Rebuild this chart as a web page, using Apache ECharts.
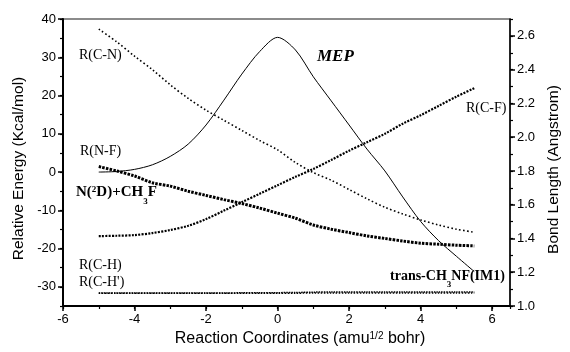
<!DOCTYPE html>
<html><head><meta charset="utf-8">
<script src="https://cdn.jsdelivr.net/npm/echarts@6/dist/echarts.min.js"></script>
<style>html,body{margin:0;padding:0;background:#fff}#c{width:570px;height:352px}</style>
</head><body><div id="c"></div>
<script>
// Reaction coordinate (amu^1/2 bohr)
const xs = [-5,-4.5,-4,-3.5,-3,-2.5,-2,-1.5,-1,-0.5,0,0.5,1,1.5,2,2.5,3,3.5,4,4.5,5,5.5];
// Relative energy (kcal/mol), left axis
const mep = [0,0.15,0.7,1.9,4.1,7.3,12.3,18.8,25.6,31.5,35.2,31.9,24.9,18.6,12.3,6.0,0.3,-6.5,-12.9,-17.9,-22.0,-26.0];
// Bond lengths (Angstrom), right axis
const rCN = [2.64,2.565,2.48,2.40,2.31,2.23,2.16,2.10,2.04,1.98,1.925,1.85,1.79,1.745,1.69,1.635,1.585,1.545,1.51,1.48,1.455,1.437];
const rNF = [1.826,1.80,1.77,1.73,1.71,1.68,1.655,1.63,1.607,1.58,1.55,1.52,1.48,1.455,1.435,1.415,1.40,1.385,1.372,1.366,1.36,1.356];
const rCF = [1.414,1.416,1.42,1.432,1.45,1.475,1.515,1.565,1.615,1.665,1.715,1.765,1.812,1.865,1.92,1.97,2.02,2.08,2.13,2.185,2.24,2.29];
const rCH = [1.077,1.077,1.077,1.077,1.077,1.077,1.077,1.077,1.078,1.078,1.079,1.080,1.082,1.083,1.083,1.083,1.083,1.083,1.083,1.083,1.083,1.083];
const rCH2 = [1.076,1.076,1.076,1.076,1.076,1.076,1.076,1.076,1.076,1.076,1.076,1.076,1.077,1.077,1.077,1.077,1.077,1.077,1.077,1.077,1.077,1.077];

const pairs = ys => xs.map((x,i)=>[x, ys[i]]);
const serif = '"Liberation Serif","Times New Roman",serif';
const sans = '"Liberation Sans",Arial,sans-serif';

const chart = echarts.init(document.getElementById('c'));
const axisLbl = {color:'#000', fontFamily:sans, fontSize:13};
const line = (name, data, yi, width, type, smooth) => ({
  name, type:'line', data: pairs(data), xAxisIndex:0, yAxisIndex:yi,
  symbol:'none', smooth: smooth, lineStyle:{color:'#000', width, type}, silent:true
});

chart.setOption({
  animation:false,
  backgroundColor:'#fff',
  grid:{left:63, right:52, top:19, bottom:45, show:true, borderColor:'#666', borderWidth:1.5, backgroundColor:'transparent'},
  xAxis:[
    {type:'value', position:'bottom', min:-6, max:6.5, interval:2,
     axisLine:{show:true, onZero:false, lineStyle:{color:'#000', width:2}},
     axisTick:{show:true, inside:false, length:5, lineStyle:{color:'#000', width:1.5}},
     axisLabel:Object.assign({margin:7, showMaxLabel:false}, axisLbl),
     splitLine:{show:false},
     name:'{n|Reaction Coordinates (amu}{s|1/2}{n| bohr)}', nameLocation:'middle', nameGap:25,
     nameTextStyle:{padding:[0,0,0,27], rich:{n:{fontFamily:sans, fontSize:16, color:'#000'}, s:{fontFamily:sans, fontSize:10, color:'#000', verticalAlign:'top'}}}
    },
    {type:'value', position:'bottom', min:-6, max:6.5, interval:1,
     axisLine:{show:false, onZero:false}, axisTick:{show:true, length:3, lineStyle:{color:'#000', width:1.2}},
     axisLabel:{show:false}, splitLine:{show:false}}
  ],
  yAxis:[
    {type:'value', position:'left', min:-35, max:40, splitNumber:8,
     axisLine:{show:true, onZero:false, lineStyle:{color:'#000', width:2}},
     axisTick:{show:true, length:5, lineStyle:{color:'#000', width:1.5}},
     axisLabel:Object.assign({margin:7, showMinLabel:false}, axisLbl),
     splitLine:{show:false},
     name:'Relative Energy (Kcal/mol)', nameLocation:'middle', nameGap:36,
     nameTextStyle:{fontFamily:sans, fontSize:15.5, color:'#000', padding:[0,12,0,0]}
    },
    {type:'value', position:'left', min:-35, max:40, interval:5,
     axisLine:{show:false, onZero:false}, axisTick:{show:true, length:3, lineStyle:{color:'#000', width:1.2}},
     axisLabel:{show:false}, splitLine:{show:false}},
    {type:'value', position:'right', min:1.0, max:2.7, interval:0.2,
     axisLine:{show:true, onZero:false, lineStyle:{color:'#000', width:1.5}},
     axisTick:{show:true, length:5, lineStyle:{color:'#000', width:1.5}},
     axisLabel:Object.assign({margin:7, showMaxLabel:false, formatter:v=>v.toFixed(1)}, axisLbl),
     splitLine:{show:false},
     name:'Bond Length (Angstrom)', nameLocation:'middle', nameGap:29,
     nameTextStyle:{fontFamily:sans, fontSize:15.5, color:'#000', padding:[0,14,0,0]}
    },
    {type:'value', position:'right', min:1.0, max:2.7, interval:0.1,
     axisLine:{show:false, onZero:false}, axisTick:{show:true, length:3, lineStyle:{color:'#000', width:1.2}},
     axisLabel:{show:false}, splitLine:{show:false}}
  ],
  series:[
    line('MEP', mep, 0, 1, 'solid', 0.3),
    line('R(C-N)', rCN, 2, 1.6, [1.6,2.4], 0.3),
    line('R(N-F)', rNF, 2, 3, [2.5,1.2], 0.3),
    line('R(C-F)', rCF, 2, 2.2, [2,1.3], 0.3),
    line('R(C-H)', rCH, 2, 1.5, [1.5,1], 0.3),
    line("R(C-H')", rCH2, 2, 1.5, [1.5,1.5], 0.3)
  ],
  graphic:[
    {type:'text', left:79, top:48, style:{text:'R(C-N)', font:'14px '+serif, fill:'#000'}},
    {type:'text', left:80, top:144, style:{text:'R(N-F)', font:'14px '+serif, fill:'#000'}},
    {type:'text', left:76, top:185, style:{text:'{b|N(}{p|2}{b|D)+CH}{q|3}{b|F}', fill:'#000',
      rich:{b:{fontFamily:serif, fontWeight:'bold', fontSize:15, fill:'#000'}, p:{fontFamily:serif, fontWeight:'bold', fontSize:9, verticalAlign:'top', fill:'#000'}, q:{fontFamily:serif, fontWeight:'bold', fontSize:9, verticalAlign:'bottom', padding:[0,0,-6,0], fill:'#000'}}}},
    {type:'text', left:79, top:258, style:{text:'R(C-H)', font:'14px '+serif, fill:'#000'}},
    {type:'text', left:79, top:275, style:{text:"R(C-H')", font:'14px '+serif, fill:'#000'}},
    {type:'text', left:317, top:48, style:{text:'MEP', font:'italic bold 17px '+serif, fill:'#000'}},
    {type:'text', left:466, top:101, style:{text:'R(C-F)', font:'14px '+serif, fill:'#000'}},
    {type:'text', left:390, top:269, style:{text:'{b|trans-CH}{q|3}{b|NF(IM1)}', fill:'#000',
      rich:{b:{fontFamily:serif, fontWeight:'bold', fontSize:14, fill:'#000'}, q:{fontFamily:serif, fontWeight:'bold', fontSize:9, verticalAlign:'bottom', padding:[0,0,-6,0], fill:'#000'}}}}
  ]
});
</script></body></html>
